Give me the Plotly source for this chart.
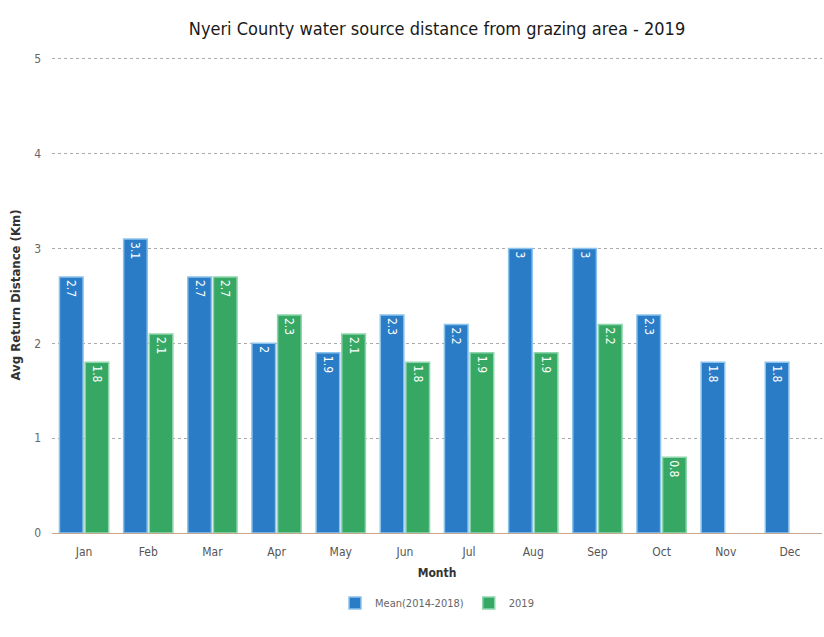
import plotly.graph_objects as go

months = ["Jan", "Feb", "Mar", "Apr", "May", "Jun", "Jul", "Aug", "Sep", "Oct", "Nov", "Dec"]
mean_2014_2018 = [2.7, 3.1, 2.7, 2, 1.9, 2.3, 2.2, 3, 3, 2.3, 1.8, 1.8]
year_2019 = [1.8, 2.1, 2.7, 2.3, 2.1, 1.8, 1.9, 1.9, 2.2, 0.8, None, None]

narrow = "DejaVu Sans Condensed, Liberation Sans Narrow, Roboto, sans-serif"

fig = go.Figure()
fig.add_trace(go.Bar(
    x=months, y=mean_2014_2018, name="Mean(2014-2018)",
    marker=dict(color="#2a7cc6", line=dict(color="#8cc3ec", width=1.5)),
    text=mean_2014_2018, texttemplate="%{y}", textposition="inside",
    insidetextanchor="end", textangle=90,
    textfont=dict(color="white", size=12, family=narrow),
))
fig.add_trace(go.Bar(
    x=months, y=year_2019, name="2019",
    marker=dict(color="#36a864", line=dict(color="#8fd6ad", width=1.5)),
    text=year_2019, texttemplate="%{y}", textposition="inside",
    insidetextanchor="end", textangle=90,
    textfont=dict(color="white", size=12, family=narrow),
))

fig.update_layout(
    width=824, height=637,
    paper_bgcolor="white", plot_bgcolor="white",
    margin=dict(l=52, r=2, t=57, b=104),
    title=dict(text="Nyeri County water source distance from grazing area - 2019",
               xref="paper", x=0.5, xanchor="center", y=0.955, yanchor="middle",
               font=dict(family=narrow, size=18, color="#1a1a1a")),
    barmode="group", bargap=0.2, bargroupgap=0.08,
    font=dict(family=narrow, color="#555555"),
    xaxis=dict(title=dict(text="<b>Month</b>", font=dict(size=12, color="#333333"), standoff=10),
               tickfont=dict(size=12, color="#555555"), showline=True,
               linecolor="#c8a890", linewidth=1, ticks="", ticklabelstandoff=8),
    yaxis=dict(title=dict(text="<b>Avg Return Distance (Km)</b>",
                          font=dict(size=13, color="#333333"), standoff=10),
               range=[0, 5.02], dtick=1, tickfont=dict(size=12, color="#666666"),
               showgrid=True, gridcolor="#aaaaaa", griddash="dot", gridwidth=1,
               zeroline=False, ticklabelstandoff=10),
    legend=dict(orientation="h", x=0.5, xanchor="center", y=-0.147, yanchor="middle",
                font=dict(size=11, color="#666666")),
)

fig.write_html("out.html")
